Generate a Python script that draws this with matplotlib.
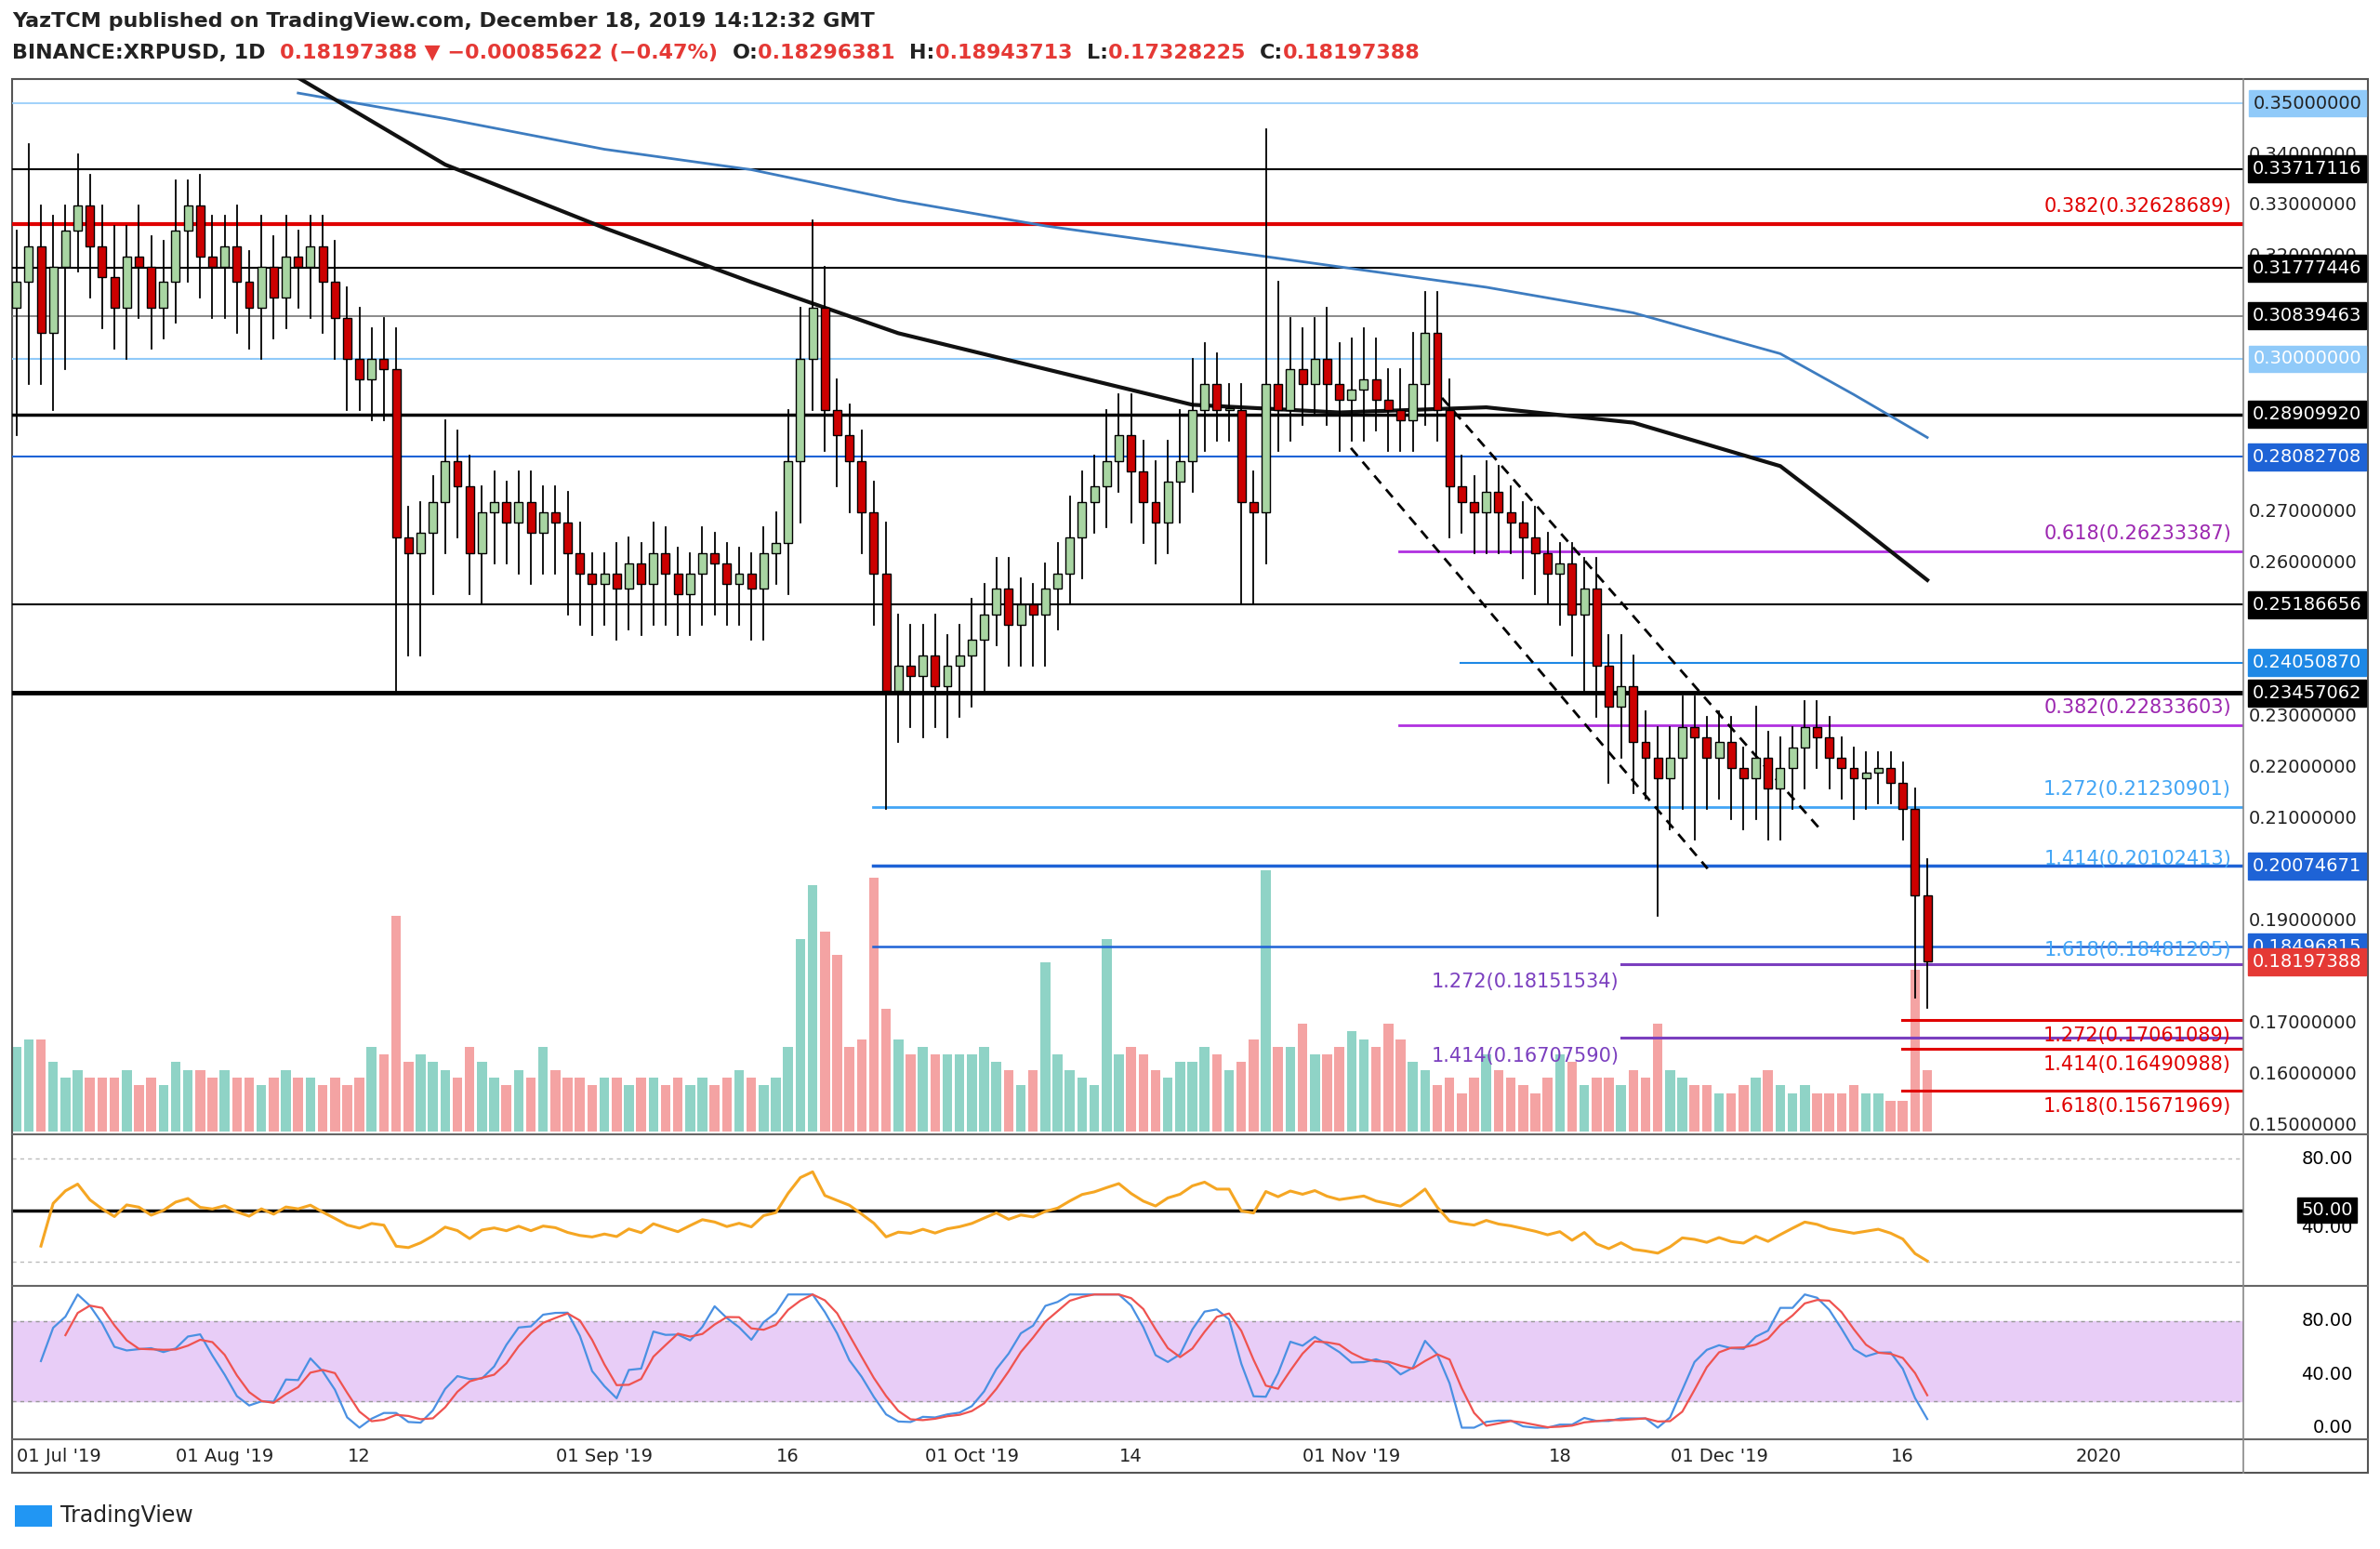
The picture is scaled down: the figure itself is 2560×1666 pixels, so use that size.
import numpy as np
import matplotlib
matplotlib.use("Agg")
import matplotlib.pyplot as plt
from matplotlib.patches import Rectangle

W, H = 1568.0, 1020.0
# ---------------- data ----------------
closes = [0.315,0.322,0.305,0.318,0.325,0.33,0.322,0.316,0.31,0.32,0.318,0.31,0.315,0.325,0.33,0.32,0.318,
 0.322,0.315,0.31,0.318,0.312,0.32,0.318,0.322,0.315,0.308,0.30,0.296,0.30,0.298,0.265,0.262,0.266,0.272,0.28,0.275,0.262,0.27,0.272,0.268,0.272,0.266,0.27,0.268,0.262,0.258,0.256,
 0.258,0.255,0.26,0.256,0.262,0.258,0.254,0.258,0.262,0.26,0.256,0.258,0.255,0.262,0.264,0.28,0.30,0.31,0.29,0.285,0.28,0.27,0.258,0.235,0.24,0.238,0.242,0.236,0.24,0.242,
 0.245,0.25,0.255,0.248,0.252,0.25,0.255,0.258,0.265,0.272,0.275,0.28,0.285,0.278,0.272,0.268,0.276,0.28,0.29,0.295,0.29,0.29,0.272,0.27,0.295,0.29,0.298,0.295,0.30,0.295,0.292,
 0.294,0.296,0.292,0.29,0.288,0.295,0.305,0.29,0.275,0.272,0.27,0.274,0.27,0.268,0.265,0.262,0.258,0.26,0.25,0.255,0.24,0.232,0.236,0.225,0.222,0.218,0.222,0.228,0.226,0.222,
 0.225,0.22,0.218,0.222,0.216,0.22,0.224,0.228,0.226,0.222,0.22,0.218,0.219,0.22,0.217,0.212,0.195,0.182]
first_open = 0.31
upper_wick = [0.01,0.02,0.008,0.01,0.005,0.01,0.006,0.008,0.01,0.006,0.01,0.006,0.008,0.01,0.005,0.006,0.008,
 0.006,0.008,0.006,0.01,0.006,0.008,0.005,0.006,0.006,0.008,0.006,0.01,0.006,0.008,0.008,0.006,0.006,0.005,0.008,0.006,0.006,0.005,0.006,0.004,0.006,0.006,0.005,0.005,0.006,0.006,0.004,
 0.004,0.006,0.005,0.004,0.006,0.005,0.005,0.004,0.005,0.004,0.004,0.005,0.004,0.005,0.006,0.01,0.01,0.017,0.008,0.006,0.006,0.006,0.006,0.01,0.01,0.008,0.006,0.008,0.006,0.006,
 0.008,0.006,0.006,0.006,0.005,0.004,0.005,0.006,0.008,0.006,0.006,0.01,0.008,0.008,0.006,0.008,0.008,0.01,0.01,0.008,0.006,0.005,0.005,0.006,0.05,0.02,0.01,0.008,0.008,0.01,0.008,
 0.01,0.01,0.008,0.006,0.008,0.01,0.008,0.008,0.006,0.006,0.005,0.006,0.005,0.005,0.004,0.006,0.004,0.004,0.004,0.006,0.006,0.006,0.01,0.006,0.006,0.006,0.006,0.006,0.006,0.004,
 0.006,0.005,0.004,0.01,0.005,0.006,0.004,0.005,0.005,0.004,0.004,0.004,0.004,0.003,0.003,0.004,0.004,0.007]
lower_wick = [0.025,0.02,0.01,0.015,0.02,0.008,0.01,0.01,0.008,0.01,0.01,0.008,0.006,0.008,0.01,0.008,0.01,
 0.01,0.01,0.008,0.01,0.008,0.006,0.008,0.01,0.01,0.008,0.01,0.006,0.008,0.01,0.03,0.02,0.02,0.012,0.01,0.01,0.008,0.01,0.01,0.008,0.01,0.01,0.008,0.01,0.012,0.01,0.01,
 0.008,0.01,0.008,0.01,0.008,0.01,0.008,0.008,0.01,0.01,0.008,0.008,0.01,0.01,0.006,0.01,0.012,0.01,0.008,0.01,0.01,0.008,0.01,0.023,0.01,0.01,0.012,0.008,0.01,0.01,
 0.01,0.01,0.006,0.008,0.008,0.01,0.01,0.008,0.006,0.008,0.006,0.008,0.006,0.01,0.008,0.008,0.006,0.008,0.006,0.008,0.006,0.006,0.02,0.018,0.01,0.008,0.006,0.008,0.006,0.008,0.01,
 0.008,0.01,0.006,0.008,0.006,0.006,0.008,0.006,0.01,0.006,0.008,0.008,0.008,0.006,0.008,0.008,0.006,0.01,0.008,0.015,0.01,0.015,0.01,0.01,0.008,0.027,0.01,0.01,0.02,0.01,
 0.008,0.01,0.01,0.008,0.01,0.01,0.008,0.008,0.006,0.006,0.006,0.008,0.006,0.006,0.004,0.006,0.02,0.009]
volume = [55,60,60,45,35,40,35,35,35,40,30,35,30,45,40,40,35,
 40,35,35,30,35,40,35,35,30,35,30,35,55,50,140,45,50,45,40,35,55,45,35,30,40,35,55,40,35,35,30,
 35,35,30,35,35,30,35,30,35,30,35,40,35,30,35,55,125,160,130,115,55,60,165,80,60,50,55,50,50,50,
 50,55,45,40,30,40,110,50,40,35,30,125,50,55,50,40,35,45,45,55,50,40,45,60,170,55,55,70,50,50,55,
 65,60,55,70,60,45,40,30,35,25,35,50,40,35,30,25,35,50,45,30,35,35,30,40,35,70,40,35,30,30,
 25,25,30,35,40,30,25,30,25,25,25,30,25,25,20,20,105,40]

# moving averages sampled every 12 days (day index, value)
ma100_days = [23,35,48,60,72,84,96,108,120,132,144,150,156]
ma100_vals = [0.355,0.338,0.3256,0.315,0.305,0.298,0.291,0.2895,0.2905,0.2875,0.279,0.268,0.2567]
ma200_days = [23,35,48,60,72,84,96,108,120,132,144,150,156]
ma200_vals = [0.352,0.347,0.341,0.337,0.331,0.326,0.322,0.318,0.314,0.309,0.301,0.293,0.2846]

tick_pos_days = [-13, 17, 28, 48, 63, 78, 91, 109, 126, 139, 154, 170]
tick_labels = ["01 Jul '19","01 Aug '19","12","01 Sep '19","16","01 Oct '19","14","01 Nov '19","18","01 Dec '19","16","2020"]

# ---------------- helpers ----------------
def fx(px): return px / W
def fy(py): return 1 - py / H
n = len(closes)
days = np.arange(n)
opens = [first_open] + closes[:-1]
highs = [max(o, c) + u for o, c, u in zip(opens, closes, upper_wick)]
lows = [min(o, c) - l for o, c, l in zip(opens, closes, lower_wick)]
xl = (-0.35, 17 + (1478 - 148) / 8.07)

fig = plt.figure(figsize=(25.6, 16.66), dpi=100)
plt.rcParams["font.family"] = "DejaVu Sans"
FS = 14

L, R = 8, 1478
ax = fig.add_axes([fx(L), fy(745), fx(R - L), (745 - 52) / H])
ax.set_xlim(*xl)
ax.set_ylim(0.35 - (745 - 68) / 3365, 0.35 + 16 / 3365)
ax.set_xticks([]); ax.set_yticks([])
for s in ax.spines.values(): s.set_visible(False)

axv = ax.twinx()
axv.set_xlim(*xl)
axv.set_ylim(0, max(volume) * 693 / 172)
axv.set_yticks([])
for s in axv.spines.values(): s.set_visible(False)
vcol = ["#8fd3c6" if c >= o else "#f4a3a3" for o, c in zip(opens, closes)]
axv.bar(days, volume, width=0.8, color=vcol, zorder=1)
ax.set_zorder(axv.get_zorder() + 1); ax.patch.set_visible(False)

def hline(p, color, lw=1.5, x0=None):
    xs = xl[0] if x0 is None else (x0 - 148) / 8.07 + 17
    ax.plot([xs, xl[1]], [p, p], color=color, lw=lw, zorder=2)

hline(0.35, "#90caf9", 1.2)
hline(0.33717116, "black", 1.5)
hline(0.32628689, "#e00000", 3)
hline(0.31777446, "black", 1.5)
hline(0.30839463, "#777777", 1.2)
hline(0.30, "#90caf9", 1.5)
hline(0.28909920, "black", 2.5)
hline(0.28082708, "#1e63d6", 1.5)
hline(0.25186656, "black", 1.5)
hline(0.24050870, "#1e88e5", 1.5, 962)
hline(0.23457062, "black", 3.5)
hline(0.26233387, "#b030e0", 2, 922)
hline(0.22833603, "#b030e0", 2, 922)
hline(0.21230901, "#42a5f5", 2, 575)
hline(0.20074671, "#1e63d6", 2.5, 575)
hline(0.18496815, "#1e63d6", 1.8, 575)
hline(0.18151534, "#7b3fbf", 2.2, 1068)
hline(0.16707590, "#7b3fbf", 2.2, 1068)
hline(0.17061089, "#e00000", 2.2, 1253)
hline(0.16490988, "#e00000", 2.2, 1253)
hline(0.15671969, "#e00000", 2.2, 1253)

def pxd(x): return (x - 148) / 8.07 + 17
def pyp(y): return 0.35 - (y - 68) / 3365
ax.plot([pxd(890), pxd(1125)], [pyp(295), pyp(572)], color="black", lw=2, ls=(0, (4, 3)), zorder=2)
ax.plot([pxd(950), pxd(1200)], [pyp(262), pyp(547)], color="black", lw=2, ls=(0, (4, 3)), zorder=2)

ax.plot(ma200_days, ma200_vals, color="#3d7cc0", lw=2, zorder=3)
ax.plot(ma100_days, ma100_vals, color="#111111", lw=3, zorder=3)

for d, o, h, l, c in zip(days, opens, highs, lows, closes):
    ax.plot([d, d], [l, h], color="black", lw=1.3, zorder=4)
    col = "#a8d5a2" if c >= o else "#cc0000"
    ax.add_patch(Rectangle((d - 0.34, min(o, c)), 0.68, max(abs(c - o), 0.0004),
                           facecolor=col, edgecolor="black", lw=1, zorder=5))

def itxt(xpx, p, s, color, ha="right"):
    ax.text(pxd(xpx), p + 0.0035, s, color=color, fontsize=FS + 1, ha=ha, va="center", zorder=6)
itxt(1470, 0.32628689, "0.382(0.32628689)", "#e00000")
itxt(1470, 0.26233387, "0.618(0.26233387)", "#9c27b0")
itxt(1470, 0.22833603, "0.382(0.22833603)", "#9c27b0")
itxt(1470, 0.21230901, "1.272(0.21230901)", "#42a5f5")
itxt(1470, 0.20102413 - 0.0025, "1.414(0.20102413)", "#42a5f5")
itxt(1470, 0.18481205 - 0.004, "1.618(0.18481205)", "#42a5f5")
itxt(943, 0.18151534 - 0.007, "1.272(0.18151534)", "#7b3fbf", "left")
itxt(943, 0.16707590 - 0.007, "1.414(0.16707590)", "#7b3fbf", "left")
itxt(1470, 0.17061089 - 0.0066, "1.272(0.17061089)", "#e00000")
itxt(1470, 0.16490988 - 0.0066, "1.414(0.16490988)", "#e00000")
itxt(1470, 0.15671969 - 0.0066, "1.618(0.15671969)", "#e00000")

plain = [0.34, 0.33, 0.32, 0.27, 0.26, 0.23, 0.22, 0.21, 0.19, 0.17, 0.16, 0.15]
for p in plain:
    ax.text(1.0 + fx(75) / fx(R - L), p, f"{p:.8f}", transform=ax.get_yaxis_transform(),
            fontsize=FS, ha="right", va="center", color="#222222", clip_on=False, zorder=1)
boxed = [(0.35, "#90caf9", "#222222"), (0.33717116, "black", "white"), (0.31777446, "black", "white"),
         (0.30839463, "black", "white"), (0.30, "#90caf9", "white"), (0.28909920, "black", "white"),
         (0.28082708, "#1e63d6", "white"), (0.25186656, "black", "white"), (0.24050870, "#1e88e5", "white"),
         (0.23457062, "black", "white"), (0.20074671, "#1e63d6", "white"), (0.18496815, "#1e63d6", "white"),
         (0.18197388, "#e53935", "white")]
for p, bg, fg in boxed:
    ax.text(1.0 + fx(78) / fx(R - L), p, f"{p:.8f}", transform=ax.get_yaxis_transform(),
            fontsize=FS, ha="right", va="center", color=fg, clip_on=False, zorder=10,
            bbox=dict(boxstyle="square,pad=0.25", fc=bg, ec=bg))

# ---------------- RSI ----------------
c = np.array(closes)
delta = np.diff(c)
gain = np.where(delta > 0, delta, 0.0); loss = np.where(delta < 0, -delta, 0.0)
per = 14
rsi = np.full(n, np.nan)
ag = gain[:per].mean(); al = loss[:per].mean()
for i in range(per, n):
    if i > per:
        ag = (ag * (per - 1) + gain[i - 1]) / per
        al = (al * (per - 1) + loss[i - 1]) / per
    rsi[i] = 100 - 100 / (1 + ag / max(al, 1e-9))
for i in range(2, per):
    g = gain[:i].mean(); lo = loss[:i].mean()
    rsi[i] = 100 - 100 / (1 + g / max(lo, 1e-9))

axr = fig.add_axes([fx(L), fy(845), fx(R - L), (845 - 750) / H])
axr.set_xlim(*xl); axr.set_ylim(50 - 48 / 1.13, 50 + 47 / 1.13)
axr.set_xticks([]); axr.set_yticks([])
for s in axr.spines.values(): s.set_visible(False)
axr.axhline(80, color="#bbbbbb", lw=1, ls=(0, (3, 3)))
axr.axhline(20, color="#bbbbbb", lw=1, ls=(0, (3, 3)))
axr.axhline(50, color="black", lw=2.5)
axr.plot(days, rsi, color="#f5a623", lw=2.2)
for v in [80, 40]:
    axr.text(1.0 + fx(72) / fx(R - L), v, f"{v:.2f}", transform=axr.get_yaxis_transform(), fontsize=FS,
             ha="right", va="center", clip_on=False)
axr.text(1.0 + fx(72) / fx(R - L), 50, "50.00", transform=axr.get_yaxis_transform(), fontsize=FS,
         ha="right", va="center", color="white", clip_on=False,
         bbox=dict(boxstyle="square,pad=0.2", fc="black", ec="black"))

# ---------------- Stoch RSI ----------------
sr = np.full(n, np.nan)
for i in range(n):
    w = rsi[max(2, i - 13):i + 1]
    if i >= 2 and np.all(np.isfinite(w)):
        rng = w.max() - w.min()
        sr[i] = 100 * (rsi[i] - w.min()) / rng if rng > 0 else 50
k = np.array([np.nanmean(sr[max(0, i - 2):i + 1]) if i >= 2 else np.nan for i in range(n)])
dd = np.array([np.nanmean(k[max(0, i - 2):i + 1]) if i >= 4 else np.nan for i in range(n)])

axs = fig.add_axes([fx(L), fy(948), fx(R - L), (948 - 848) / H])
axs.set_xlim(*xl); axs.set_ylim(-9, 105)
axs.set_xticks([]); axs.set_yticks([])
for s in axs.spines.values(): s.set_visible(False)
axs.axhspan(20, 80, color="#e8cdf7", zorder=0)
axs.axhline(80, color="#999999", lw=1, ls=(0, (3, 3)))
axs.axhline(20, color="#999999", lw=1, ls=(0, (3, 3)))
axs.plot(days, k, color="#4a90e2", lw=1.6)
axs.plot(days, dd, color="#ef5350", lw=1.6)
for v in [80, 40, 0]:
    axs.text(1.0 + fx(72) / fx(R - L), v, f"{v:.2f}", transform=axs.get_yaxis_transform(), fontsize=FS,
             ha="right", va="center", clip_on=False)

for yy in [747, 847, 948]:
    fig.add_artist(plt.Line2D([fx(L), fx(1560)], [fy(yy), fy(yy)], color="#666666", lw=1.5))
fig.add_artist(plt.Line2D([fx(R), fx(R)], [fy(52), fy(970)], color="#888888", lw=1.2))
fig.add_artist(Rectangle((fx(L), fy(970)), fx(1560 - L), (970 - 52) / H, fill=False, ec="#555555", lw=1.5))

axd = fig.add_axes([fx(L), fy(970), fx(R - L), (970 - 948) / H])
axd.set_xlim(*xl); axd.set_ylim(0, 1); axd.axis("off")
for d, t in zip(tick_pos_days, tick_labels):
    xx = max(d, 3.5)
    axd.text(xx, 0.5, t, fontsize=FS, ha="center", va="center", color="#222222")

fig.text(fx(8), fy(14), "YazTCM published on TradingView.com, December 18, 2019 14:12:32 GMT",
         fontsize=FS + 2, fontweight="bold", va="center", color="#222222")
parts = [("BINANCE:XRPUSD, 1D ", "#222222"), ("0.18197388 \u25bc \u22120.00085622 (\u22120.47%) ", "#e53935"),
         ("O:", "#222222"), ("0.18296381 ", "#e53935"), ("H:", "#222222"), ("0.18943713 ", "#e53935"),
         ("L:", "#222222"), ("0.17328225 ", "#e53935"), ("C:", "#222222"), ("0.18197388", "#e53935")]
renderer = fig.canvas.get_renderer()
xcur = fx(8)
for s, col in parts:
    t = fig.text(xcur, fy(35), s, fontsize=FS + 2, fontweight="bold", va="center", color=col)
    bb = t.get_window_extent(renderer=renderer)
    xcur += bb.width / fig.bbox.width + (0.003 if s.endswith(" ") else 0)

fig.text(fx(40), fy(998), "TradingView", fontsize=FS + 3, va="center", color="#222222")
fig.add_artist(Rectangle((fx(10), fy(1005)), fx(24), 14 / H, fc="#2196f3", ec="none"))

fig.savefig("out.png", dpi=100)
